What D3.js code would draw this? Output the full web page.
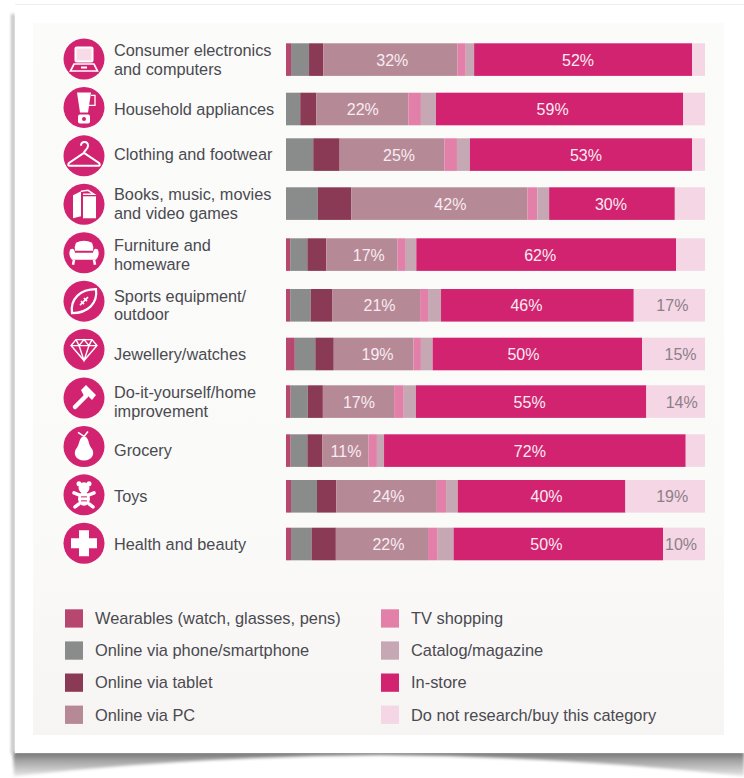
<!DOCTYPE html>
<html>
<head>
<meta charset="utf-8">
<script src="https://cdn.jsdelivr.net/npm/d3@7/dist/d3.min.js"></script>
<style>
  html, body { margin: 0; padding: 0; background: #fff; }
  svg { display: block; }
  text { font-family: "Liberation Sans", Arial, sans-serif; }
</style>
</head>
<body>
<div id="chart"></div>
<script>
// Where shoppers research or buy, by product category (% of respondents)
const categories = [
  "Consumer electronics|and computers", "Household appliances", "Clothing and footwear",
  "Books, music, movies|and video games", "Furniture and|homeware", "Sports equipment/|outdoor",
  "Jewellery/watches", "Do-it-yourself/home|improvement", "Grocery", "Toys", "Health and beauty"
];
const seriesNames = [
  "Wearables (watch, glasses, pens)", "Online via phone/smartphone", "Online via tablet", "Online via PC",
  "TV shopping", "Catalog/magazine", "In-store", "Do not research/buy this category"
];
const seriesColors = ["#b8476f", "#8a8b8b", "#8a3a55", "#b68997", "#e280a9", "#c5a8b3", "#d22370", "#f4d6e5"];

const wearables = [1.2, 0, 0, 0, 1.0, 1.0, 2.1, 1.1, 1.1, 1.2, 1.2];
const phone     = [4.3, 3.4, 6.5, 7.6, 4.1, 4.9, 4.9, 4.1, 4.0, 6.2, 4.9];
const tablet    = [3.4, 3.8, 6.3, 8.0, 4.5, 5.1, 4.4, 3.6, 3.6, 4.6, 5.8];
const pc        = [32, 22, 25, 42, 17, 21, 19, 17, 11, 24, 22];
const tv        = [2.0, 3.0, 3.0, 2.4, 1.8, 1.9, 1.8, 2.3, 2.0, 2.2, 2.3];
const catalog   = [2.0, 3.6, 3.1, 2.8, 2.7, 3.1, 2.8, 2.9, 1.7, 2.8, 3.8];
const inStore   = [52, 59, 53, 30, 62, 46, 50, 55, 72, 40, 50];
const noBuy     = [3.1, 5.2, 3.1, 7.2, 6.9, 17, 15, 14, 4.6, 19, 10];
const allSeries = [wearables, phone, tablet, pc, tv, catalog, inStore, noBuy];

// Percentages are printed on these series when the segment is wide enough
const labelledSeries = [3, 6, 7];
const minLabelled = 10;
// Hand-placed label offsets from the centre of each segment, in pixels
const labelShift = {
  3: [2, 0.5, 7, 11, 7, 3.5, 4, 0.5, 0.5, 2, 6.5],
  6: [-5, -7, 5, -1, -6, -11, -14, -1.5, -5, 5, -12],
  7: [0, 0, 0, 0, 0, 3, 7, 6, 0, 7, -3]
};

// Layout of the sheet
const W = 744, H = 778;
const rowTops = [43.3, 92.7, 138.3, 187.3, 238.3, 289, 337.7, 385.3, 434.3, 480, 527.7];
const barHeight = 32.6;
const iconFirstY = 59, iconLastY = 543.3, iconX = 84, iconR = 20.5;
const labelX = 114;

const x = d3.scaleLinear().domain([0, 100]).range([286, 705]);
const y = d3.scaleOrdinal().domain(categories).range(rowTops);
const iconY = d3.scalePoint().domain(categories).range([iconFirstY, iconLastY]);
const colour = d3.scaleOrdinal().domain(seriesNames).range(seriesColors);

const rows = categories.map((c, i) => {
  const o = { category: c };
  seriesNames.forEach((s, k) => { o[s] = allSeries[k][i]; });
  return o;
});
const stacked = d3.stack().keys(seriesNames)(rows);

const svg = d3.select("#chart").append("svg").attr("width", W).attr("height", H);
const defs = svg.append("defs");

defs.append("filter").attr("id", "soft").attr("x", "-5%").attr("y", "-50%").attr("width", "110%").attr("height", "200%")
  .append("feGaussianBlur").attr("stdDeviation", 1.6);
defs.append("filter").attr("id", "softEdge").attr("x", "-50%").attr("y", "-5%").attr("width", "200%").attr("height", "110%")
  .append("feGaussianBlur").attr("stdDeviation", 1.5);

const shadowGrad = defs.append("linearGradient").attr("id", "curl").attr("x1", 0).attr("x2", 0).attr("y1", 0).attr("y2", 1);
[[0, "#6f6f6f"], [0.35, "#a2a2a2"], [1, "#e6e6e6"]].forEach(([o, c]) =>
  shadowGrad.append("stop").attr("offset", o).attr("stop-color", c));

const panelGrad = defs.append("linearGradient").attr("id", "panel").attr("x1", 0).attr("x2", 0).attr("y1", 0).attr("y2", 1);
[[0, "#fbfbfa"], [0.7, "#fafaf9"], [1, "#f7f5f3"]].forEach(([o, c]) =>
  panelGrad.append("stop").attr("offset", o).attr("stop-color", c));

// Curled-paper shadow beneath the sheet, deepest towards both corners
svg.append("path")
  .attr("d", "M13,752 L744,752 L744,776 Q560,756 380,755 Q200,756 14,776 Z")
  .attr("fill", "url(#curl)").attr("filter", "url(#soft)");
svg.append("rect").attr("x", 11).attr("y", 14).attr("width", 4).attr("height", 740)
  .attr("fill", "#c4c4c4").attr("filter", "url(#softEdge)");
svg.append("rect").attr("x", 15).attr("y", 4).attr("width", 729).attr("height", 749).attr("fill", "#fff");
svg.append("rect").attr("x", 15).attr("y", 4).attr("width", 729).attr("height", 1).attr("fill", "#eeeeee");
svg.append("rect").attr("x", 33).attr("y", 23).attr("width", 691).attr("height", 712).attr("fill", "url(#panel)");

// Stacked bars
svg.append("g").selectAll("g").data(stacked).join("g")
  .attr("fill", d => colour(d.key))
  .selectAll("rect").data(d => d).join("rect")
  .attr("x", d => x(d[0]))
  .attr("y", d => y(d.data.category))
  .attr("width", d => x(d[1]) - x(d[0]))
  .attr("height", barHeight);

// Percentage labels
labelledSeries.forEach(k => {
  svg.append("g").selectAll("text")
    .data(stacked[k].map((d, i) => ({ d, shift: labelShift[k][i] })).filter(e => e.d[1] - e.d[0] >= minLabelled))
    .join("text")
    .attr("x", e => (x(e.d[0]) + x(e.d[1])) / 2 + e.shift)
    .attr("y", e => y(e.d.data.category) + barHeight / 2 + 0.5)
    .attr("dy", "0.35em")
    .attr("text-anchor", "middle")
    .attr("font-size", 16)
    .attr("fill", k === 7 ? "#8d7f87" : "#f8ecf1")
    .text(e => Math.round(e.d[1] - e.d[0]) + "%");
});

// Category labels
const catLabels = svg.append("g").selectAll("text").data(categories).join("text")
  .attr("font-size", 16.3).attr("fill", "#4a4a50")
  .attr("text-anchor", "start");
catLabels.each(function (c) {
  const lines = c.split("|");
  const mid = y(c) + barHeight / 2;
  d3.select(this).selectAll("tspan").data(lines).join("tspan")
    .attr("x", labelX)
    .attr("y", (l, i) => mid + (i - (lines.length - 1) / 2) * 18.5)
    .attr("dy", "0.35em")
    .text(l => l);
});

// Round category badges with white pictograms
const pictograms = [
  g => { // laptop
    g.append("rect").attr("x", -8.5).attr("y", -11.5).attr("width", 17).attr("height", 14).attr("rx", 1).attr("fill", "#f7dbe7").attr("stroke", "#fff").attr("stroke-width", 2);
    g.append("path").attr("d", "M-10,5 H10 L13.5,12 H-13.5 Z").attr("fill", "none").attr("stroke", "#fff").attr("stroke-width", 1.7);
    g.append("rect").attr("x", -3).attr("y", 7.5).attr("width", 6).attr("height", 2).attr("fill", "#fff");
  },
  g => { // blender
    g.append("path").attr("d", "M-7,-15 H7 L4,5 H-4 Z").attr("fill", "#fff");
    g.append("path").attr("d", "M7,-12 H11 V-2 H5").attr("fill", "none").attr("stroke", "#fff").attr("stroke-width", 1.3);
    g.append("rect").attr("x", -6).attr("y", 7).attr("width", 12).attr("height", 9).attr("rx", 2).attr("fill", "#fff");
    g.append("circle").attr("cy", 11.5).attr("r", 2).attr("fill", "#d22370");
  },
  g => { // coat hanger
    g.append("path").attr("d", "M-3,-10 C-3,-15 4,-15 4,-10 C4,-6 0,-6 0,-3 L15,7 Q17,10 14,10 H-14 Q-17,10 -15,7 L0,-3").attr("fill", "none").attr("stroke", "#fff").attr("stroke-width", 2);
  },
  g => { // book
    g.append("path").attr("d", "M-11,-9 L-3,-13 L-3,12 L-11,14 Z").attr("fill", "#fff");
    g.append("path").attr("d", "M-1,-8 H12 V14 H-1 Z").attr("fill", "#fff");
    g.append("path").attr("d", "M-3,-13 L4,-14 L10,-10 H-1").attr("fill", "none").attr("stroke", "#fff").attr("stroke-width", 1.5);
  },
  g => { // armchair
    g.append("path").attr("d", "M-8,-10 Q0,-14 8,-10 Q10,-6 9,-2 H-9 Q-10,-6 -8,-10 Z").attr("fill", "#fff");
    g.append("path").attr("d", "M-14,-3 Q-10,-6 -9,0 H9 Q10,-6 14,-3 Q16,3 12,7 H-12 Q-16,3 -14,-3 Z").attr("fill", "#fff");
    g.append("path").attr("d", "M-10,7 L-11,12 M10,7 L11,12").attr("stroke", "#fff").attr("stroke-width", 2.5);
  },
  g => { // rugby ball
    g.append("path").attr("d", "M-12,12 C-14,-2 -4,-12 12,-12 C14,2 4,12 -12,12 Z").attr("fill", "none").attr("stroke", "#fff").attr("stroke-width", 2.2);
    g.append("path").attr("d", "M-4,4 L4,-4 M-3,0 L0,3 M0,-3 L3,0").attr("stroke", "#fff").attr("stroke-width", 1.6);
  },
  g => { // diamond
    g.append("path").attr("d", "M-8,-10 H8 L13,-4 L0,11 L-13,-4 Z M-13,-4 H13 M-5,-4 L0,11 L5,-4 M-8,-10 L-5,-4 L0,-10 L5,-4 L8,-10").attr("fill", "none").attr("stroke", "#fff").attr("stroke-width", 1.4);
  },
  g => { // hammer
    g.append("path").attr("d", "M-9,9 L2,-2").attr("stroke", "#fff").attr("stroke-width", 4.5).attr("stroke-linecap", "round");
    g.append("path").attr("d", "M-3,-8 L2,-13 L12,-3 L8,2 L4,-2 L1,0 Z").attr("fill", "#fff");
  },
  g => { // pear
    g.append("path").attr("d", "M0,-10 C5,-10 4,-3 7,1 C12,7 8,14 0,14 C-8,14 -12,7 -7,1 C-4,-3 -5,-10 0,-10 Z").attr("fill", "#fff");
    g.append("path").attr("d", "M0,-10 L4,-15 M0,-10 L-6,-14").attr("stroke", "#fff").attr("stroke-width", 1.6);
  },
  g => { // teddy bear
    g.append("circle").attr("cy", -7).attr("r", 5.5).attr("fill", "#fff");
    g.append("circle").attr("cx", -5).attr("cy", -11).attr("r", 2.5).attr("fill", "#fff");
    g.append("circle").attr("cx", 5).attr("cy", -11).attr("r", 2.5).attr("fill", "#fff");
    g.append("ellipse").attr("cy", 4).attr("rx", 6).attr("ry", 7).attr("fill", "#fff");
    g.append("path").attr("d", "M-5,0 L-10,-2 M5,0 L10,-2 M-5,9 L-9,12 M5,9 L9,12").attr("stroke", "#fff").attr("stroke-width", 3.6).attr("stroke-linecap", "round");
    g.append("path").attr("d", "M-3,2 H3 M-3,6 H3").attr("stroke", "#d22370").attr("stroke-width", 1);
  },
  g => { // medical cross
    g.append("path").attr("d", "M-5,-13 H5 V-5 H13 V5 H5 V13 H-5 V5 H-13 V-5 H-5 Z").attr("fill", "#fff");
  }
];

const badges = svg.append("g").selectAll("g").data(categories).join("g")
  .attr("transform", c => `translate(${iconX},${iconY(c)})`);
badges.append("circle").attr("r", iconR).attr("fill", "#d22370");
badges.each(function (c, i) { pictograms[i](d3.select(this)); });

// Legend, two columns of four
const legendX = d3.scaleOrdinal().domain([0, 1]).range([65, 381]);
const legendY = d3.scalePoint().domain(d3.range(4)).range([609.3, 705.6]);
const legend = svg.append("g").selectAll("g").data(seriesNames).join("g")
  .attr("transform", (s, i) => `translate(${legendX(Math.floor(i / 4))},${legendY(i % 4)})`);
legend.append("rect").attr("width", 18).attr("height", 18.3).attr("fill", s => colour(s));
legend.append("text").attr("x", 30).attr("y", 9.2).attr("dy", "0.35em")
  .attr("font-size", 16.4).attr("fill", "#4a4a50").text(s => s);
</script>
</body>
</html>
